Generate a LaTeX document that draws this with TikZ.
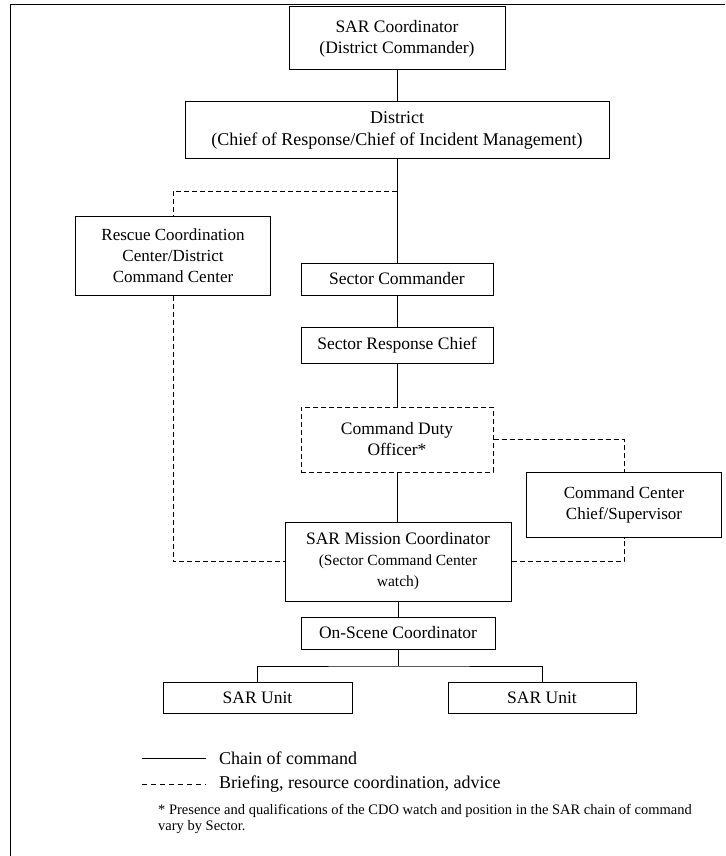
\documentclass[tikz,border=0pt]{standalone}
\usepackage{fontspec}
\setmainfont{Liberation Serif}
\begin{document}
\begin{tikzpicture}[x=1pt,y=-1pt,
  box/.style={draw, line width=1pt, align=center, inner sep=2pt, font=\fontsize{17.5}{21}\selectfont},
  dashedbox/.style={box, dash pattern=on 5pt off 3pt},
  cmd/.style={line width=1pt},
  brief/.style={line width=1pt, dash pattern=on 5pt off 3pt},
  legendtext/.style={anchor=west, inner sep=0pt, font=\fontsize{18}{22}\selectfont},
  notetext/.style={anchor=north west, inner sep=0pt, align=left, font=\fontsize{14.5}{16}\selectfont}
]
\useasboundingbox (0,0) rectangle (725,856);
% frame
\coordinate (fbl) at (10,856);
\coordinate (ftl) at (10,5);
\coordinate (ftr) at (725,5);
\draw[cmd] (fbl) -- (ftl) -- (ftr);

% boxes
\node[box, minimum width=216, minimum height=63] (sarc) at (397,38.5) {SAR Coordinator\\(District Commander)};
\node[box, minimum width=424, minimum height=57, font=\fontsize{18}{22}\selectfont] (dist) at (397,130) {District\\(Chief of Response/Chief of Incident Management)};
\node[box, minimum width=195, minimum height=79, font=\fontsize{17}{21}\selectfont] (rcc) at (173,255.5) {Rescue Coordination\\Center/District\\Command Center};
\node[box, minimum width=192, minimum height=32] (sc) at (397,279) {Sector Commander};
\node[box, minimum width=192, minimum height=36] (src) at (397,345) {Sector Response Chief};
\node[dashedbox, minimum width=192, minimum height=65] (cdo) at (397,439.5) {Command Duty\\Officer*};
\node[box, minimum width=195, minimum height=65, font=\fontsize{17}{21}\selectfont] (ccc) at (624,504.5) {Command Center\\Chief/Supervisor};
\node[box, minimum width=226, minimum height=79] (smc) at (398,561.5) {SAR Mission Coordinator\\{\fontsize{15.5}{18.5}\selectfont (Sector Command Center}\\{\fontsize{15.5}{18.5}\selectfont watch)}};
\node[box, minimum width=194, minimum height=32] (osc) at (398,633) {On-Scene Coordinator};
\node[box, minimum width=189, minimum height=31] (u1) at (257.5,697.5) {SAR Unit};
\node[box, minimum width=188, minimum height=31] (u2) at (542,697.5) {SAR Unit};

% chain of command
\draw[cmd] (sarc.south) -- (dist.north);
\draw[cmd] (dist.south) -- (sc.north);
\draw[cmd] (sc.south) -- (src.north);
\draw[cmd] (src.south) -- (cdo.north);
\draw[cmd] (cdo.south) -- (cdo.south |- smc.north);
\draw[cmd] (smc.south) -- (osc.north);
\coordinate (jn) at (398,666);
\draw[cmd] (osc.south) -- (jn);
\draw[cmd] (u1.north) |- (jn) -| (u2.north);

% briefing
\coordinate (b1) at (397,191);
\draw[brief] (b1) -| (rcc.north);
\draw[brief] (rcc.south) |- (smc.west);
\draw[brief] (smc.east) -| (ccc.south);
\draw[brief] (cdo.east) -| (ccc.north);

% legend
\coordinate (l1a) at (142,758);
\coordinate (l1b) at (206,758);
\coordinate (l2a) at (142,784);
\coordinate (l2b) at (206,784);
\draw[cmd] (l1a) -- (l1b);
\draw[brief, dash pattern=on 5pt off 4pt] (l2a) -- (l2b);
\node[legendtext] (t1) at (219,758) {Chain of command};
\node[legendtext] (t2) at (219,784) {Briefing, resource coordination, advice};
\node[notetext] (t3) at (158,804) {* Presence and qualifications of the CDO watch and position in the SAR chain of command\\vary by Sector.};
\end{tikzpicture}
\end{document}
